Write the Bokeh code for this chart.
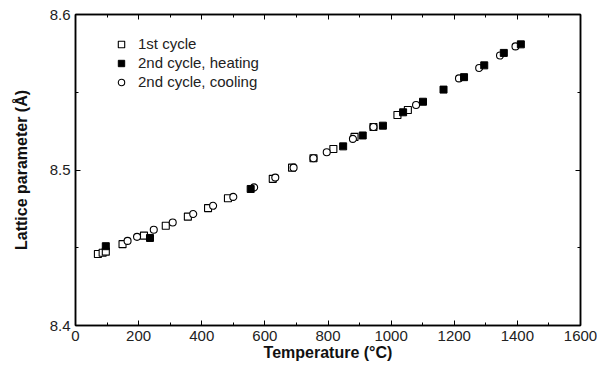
from bokeh.plotting import figure
from bokeh.models import (LinearAxis, FixedTicker, Legend, LegendItem, Range1d,
                          CustomLabelingPolicy)
from bokeh.embed import file_html
from bokeh.resources import INLINE

# 1st cycle (open squares)
t1 = [71, 86, 96, 149, 217, 286, 356, 420, 483, 625, 686, 754, 817, 884, 944, 1020, 1053]
a1 = [8.4460, 8.4468, 8.4475, 8.4523, 8.4578, 8.4641, 8.4700, 8.4755, 8.4818, 8.4943,
      8.5015, 8.5076, 8.5135, 8.5213, 8.5277, 8.5354, 8.5386]
# 2nd cycle, heating (filled squares)
t2 = [96, 236, 555, 848, 910, 974, 1038, 1101, 1166, 1231, 1295, 1357, 1411]
a2 = [8.4510, 8.4563, 8.4878, 8.5152, 8.5222, 8.5285, 8.5371, 8.5439, 8.5517, 8.5597,
      8.5673, 8.5753, 8.5808]
# 2nd cycle, cooling (open circles)
t3 = [165, 195, 248, 308, 373, 436, 500, 566, 633, 691, 754, 796, 879, 944, 1079, 1215,
      1279, 1345, 1394]
a3 = [8.4544, 8.4570, 8.4616, 8.4662, 8.4717, 8.4770, 8.4827, 8.4888, 8.4951, 8.5015,
      8.5076, 8.5114, 8.5200, 8.5277, 8.5418, 8.5589, 8.5656, 8.5736, 8.5795]

x_major = [0, 200, 400, 600, 800, 1000, 1200, 1400, 1600]
x_minor = [100, 300, 500, 700, 900, 1100, 1300, 1500]
y_major = [8.4, 8.5, 8.6]
y_minor = [8.45, 8.55]

FONT = "Liberation Sans"

p = figure(width=597, height=365, output_backend="svg", toolbar_location=None,
           x_range=Range1d(0, 1600), y_range=Range1d(8.4, 8.6),
           x_axis_label="Temperature (°C)", y_axis_label="Lattice parameter (Å)",
           min_border_left=75, min_border_top=14, min_border_right=17, min_border_bottom=40)
p.grid.visible = False
p.outline_line_color = "black"
p.outline_line_width = 1.5
p.background_fill_color = "white"
p.border_fill_color = "white"

xt = FixedTicker(ticks=x_major, minor_ticks=x_minor)
yt = FixedTicker(ticks=y_major, minor_ticks=y_minor)

p.add_layout(LinearAxis(), "above")
p.add_layout(LinearAxis(), "right")

for ax in p.xaxis:
    ax.ticker = xt
for ax in p.yaxis:
    ax.ticker = yt

for ax in p.xaxis + p.yaxis:
    ax.axis_line_width = 1.5
    ax.axis_line_color = "black"
    ax.major_tick_in = 5
    ax.major_tick_out = 0
    ax.minor_tick_in = 3
    ax.minor_tick_out = 0
    ax.major_tick_line_color = "black"
    ax.minor_tick_line_color = "black"
    ax.major_label_text_font = FONT
    ax.major_label_text_font_size = "15px"
    ax.major_label_text_color = "#222222"
    ax.axis_label_text_font = FONT
    ax.axis_label_text_font_style = "bold"
    ax.axis_label_text_font_size = "16px"
    ax.axis_label_text_color = "#111111"

hide = CustomLabelingPolicy(code="return new Set()")
for ax in (p.above[0], p.right[0]):
    ax.major_label_policy = hide
    ax.major_label_standoff = 0
    ax.major_label_text_font_size = "0px"

p.below[0].major_label_standoff = 5
p.below[0].axis_label_standoff = 0
p.left[0].major_label_standoff = 5
p.left[0].axis_label_standoff = 17
p.left[0].major_label_overrides = {8.4: "8.4", 8.5: "8.5", 8.6: "8.6"}

r1 = p.scatter(t1, a1, marker="square", size=7, fill_color="white",
               line_color="black", line_width=1.1)
r3 = p.scatter(t3, a3, marker="circle", size=7, fill_color="white",
               line_color="black", line_width=1.1)
r2 = p.scatter(t2, a2, marker="square", size=7, fill_color="black",
               line_color="black", line_width=1)

legend = Legend(items=[LegendItem(label="1st cycle", renderers=[r1]),
                       LegendItem(label="2nd cycle, heating", renderers=[r2]),
                       LegendItem(label="2nd cycle, cooling", renderers=[r3])],
                location=(38, 234), padding=0, margin=0, spacing=0,
                glyph_width=16, glyph_height=16, label_height=19, label_standoff=9,
                label_text_font=FONT, label_text_font_size="15px",
                label_text_color="#222222",
                border_line_color=None, background_fill_alpha=0)
p.add_layout(legend, "center")

open("out.html", "w").write(file_html(p, INLINE))
